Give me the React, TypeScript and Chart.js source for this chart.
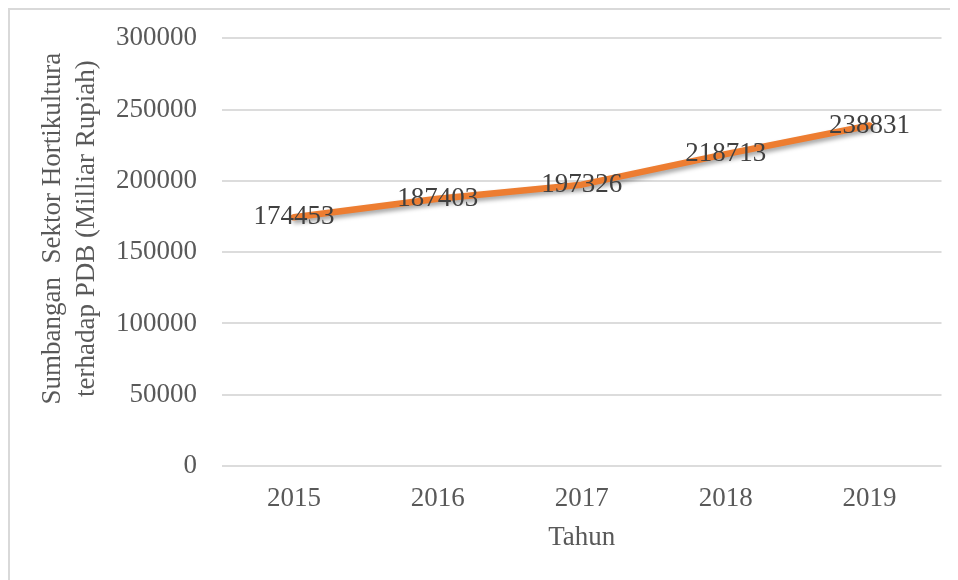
import React, { useEffect, useRef } from 'react';
import { Chart, registerables } from 'chart.js';

Chart.register(...registerables);

const years: string[] = ['2015', '2016', '2017', '2018', '2019'];
const values: number[] = [174453, 187403, 197326, 218713, 238831];
const yAxisTitleLines: string[] = ['Sumbangan  Sektor Hortikultura', 'terhadap PDB (Milliar Rupiah)'];
const xAxisTitle = 'Tahun';

const FONT = "'Liberation Serif', 'Times New Roman', serif";

const shadowPlugin = {
  id: 'lineShadow',
  beforeDatasetDraw(chart: any) {
    const ctx = chart.ctx;
    ctx.save();
    ctx.shadowColor = 'rgba(0,0,0,0.35)';
    ctx.shadowBlur = 4;
    ctx.shadowOffsetX = 2;
    ctx.shadowOffsetY = 3;
  },
  afterDatasetDraw(chart: any) {
    chart.ctx.restore();
  },
};

const labelsPlugin = {
  id: 'valueLabels',
  afterDatasetsDraw(chart: any) {
    const ctx = chart.ctx;
    const meta = chart.getDatasetMeta(0);
    const data = chart.data.datasets[0].data as number[];
    ctx.save();
    ctx.font = `27px ${FONT}`;
    ctx.fillStyle = '#404040';
    ctx.textAlign = 'center';
    ctx.textBaseline = 'middle';
    meta.data.forEach((pt: any, i: number) => {
      ctx.fillText(String(data[i]), pt.x, pt.y);
    });
    ctx.restore();
  },
};

const yTitlePlugin = {
  id: 'yTitle',
  afterDraw(chart: any) {
    const ctx = chart.ctx;
    const area = chart.chartArea;
    const cy = area.top + (area.bottom - area.top) * 0.445;
    ctx.save();
    ctx.font = `27px ${FONT}`;
    ctx.fillStyle = '#595959';
    ctx.textAlign = 'center';
    ctx.textBaseline = 'middle';
    yAxisTitleLines.forEach((line, i) => {
      ctx.save();
      ctx.translate(42.5 + i * 34, cy);
      ctx.rotate(-Math.PI / 2);
      ctx.fillText(line, 0, 0);
      ctx.restore();
    });
    ctx.restore();
  },
};

export default function App() {
  const ref = useRef<HTMLCanvasElement | null>(null);

  useEffect(() => {
    if (!ref.current) return;
    const chart = new Chart(ref.current, {
      type: 'line',
      data: {
        labels: years,
        datasets: [
          {
            data: values,
            borderColor: '#ED7D31',
            backgroundColor: '#ED7D31',
            borderWidth: 6.5,
            borderCapStyle: 'round',
            borderJoinStyle: 'round',
            pointRadius: 0,
            tension: 0,
            fill: false,
          },
        ],
      },
      options: {
        responsive: false,
        animation: false,
        layout: { padding: { top: 28.3, right: 16.5, bottom: 26.3, left: 0 } },
        plugins: {
          legend: { display: false },
          tooltip: { enabled: false },
        },
        scales: {
          x: {
            offset: true,
            grid: { display: false, drawTicks: false },
            border: { display: false },
            ticks: {
              color: '#595959',
              font: { family: FONT, size: 27 },
              padding: 17,
            },
            title: {
              display: true,
              text: xAxisTitle,
              color: '#595959',
              font: { family: FONT, size: 27, lineHeight: 1.2 },
              padding: { top: 0, bottom: 0 },
            },
            afterFit(scale: any) {
              scale.height = 87.7;
            },
          },
          y: {
            min: 0,
            max: 300000,
            grid: { color: '#dcdcdc', lineWidth: 2, drawTicks: false },
            border: { display: false },
            ticks: {
              stepSize: 50000,
              color: '#595959',
              font: { family: FONT, size: 27 },
              padding: 25,
              callback: (v: any) => String(v),
            },
            afterFit(scale: any) {
              scale.width = 212;
              scale.paddingTop = 10;
              scale.paddingBottom = 10;
            },
          },
        },
      },
      plugins: [shadowPlugin, labelsPlugin, yTitlePlugin],
    });
    return () => chart.destroy();
  }, []);

  return (
    <div
      style={{
        width: 948,
        height: 570,
        borderTop: '2px solid #d9d9d9',
        borderLeft: '2px solid #d9d9d9',
        background: '#ffffff',
      }}
    >
      <canvas ref={ref} width={948} height={570} style={{ display: 'block' }} />
    </div>
  );
}
